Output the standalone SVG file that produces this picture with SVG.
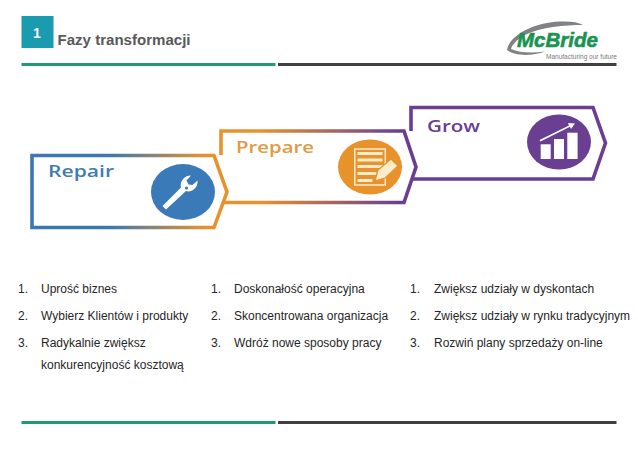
<svg xmlns="http://www.w3.org/2000/svg" width="638" height="452" viewBox="0 0 638 452">
<style>
.l{font:12px "Liberation Sans",Arial,sans-serif;fill:#262626}
.h{font-family:"Open Sans","Noto Sans",sans-serif;font-weight:600;font-size:17px}
.s{fill:none;stroke-width:3.6;stroke-linejoin:miter}
.g{fill:#1f9b72}.d{fill:#404042}
</style>
<defs>
<linearGradient id="g1" gradientUnits="userSpaceOnUse" x1="110" y1="0" x2="205" y2="0"><stop offset="0" stop-color="#3a78b2"/><stop offset="1" stop-color="#e8922c"/></linearGradient>
<linearGradient id="g2" gradientUnits="userSpaceOnUse" x1="260" y1="0" x2="400" y2="0"><stop offset="0" stop-color="#e8922c"/><stop offset="1" stop-color="#6a3e90"/></linearGradient>
</defs>
<rect width="638" height="452" fill="#fff"/>
<g id="header">
<rect x="21.5" y="16" width="32" height="32" fill="#1a9bb0"/>
<text x="37" y="38" text-anchor="middle" style="font:bold 14px 'Liberation Sans',Arial,sans-serif" fill="#fff">1</text>
<text x="57.5" y="45" style="font:bold 14px 'Liberation Sans',Arial,sans-serif" fill="#59595b" textLength="133" lengthAdjust="spacingAndGlyphs">Fazy transformacji</text>
<rect class="g" x="21.5" y="63" width="254" height="3"/>
<rect class="d" x="278" y="63" width="338.5" height="3"/>
</g>
<g id="logo">
<path d="M507 50C509 37 530 23 560 21.5C570 21 578 22 583 25C565 25 541 27 525 35C516 40 512 45 511 49C520 53 532 53 545 51.5C533 56 514 56.5 507 50Z" fill="#808285"/>
<text x="517" y="46.5" style="font:italic bold 21px 'Liberation Sans',Arial,sans-serif" fill="#1a9350" stroke="#1a9350" stroke-width=".6" textLength="81" lengthAdjust="spacingAndGlyphs">McBride</text>
<text x="546" y="58.5" style="font:7.5px 'Liberation Sans',Arial,sans-serif" fill="#7a7a7c" textLength="71" lengthAdjust="spacingAndGlyphs">Manufacturing our future</text>
</g>
<g id="grow">
<path class="s" stroke="#6a3e90" d="M411 131V107.5H593L605.5 143L593 179H413"/>
<ellipse cx="559" cy="142" rx="32" ry="27.5" fill="#6a3e90"/>
<g fill="#fff">
<rect x="540.7" y="144.3" width="10" height="14.7"/>
<rect x="554" y="139" width="10" height="20"/>
<rect x="567.3" y="132.7" width="10.3" height="26.3"/>
<path d="M539.5 140L569 125.5L568 123L575 123.5L571 129L570 126.8L540.5 141.5Z"/>
</g>
<text class="h" x="427" y="132" fill="#6a3e90" textLength="53" lengthAdjust="spacingAndGlyphs">Grow</text>
</g>
<g id="prepare">
<path class="s" stroke="url(#g2)" d="M221 155V131H404L416 167L404 202.5H224"/>
<ellipse cx="370" cy="167" rx="32" ry="27.5" fill="#e8922c"/>
<rect x="354.8" y="149" width="30.5" height="36" fill="none" stroke="#fbeccb" stroke-width="1.5"/>
<g fill="#fbeccb">
<rect x="357.5" y="152" width="25" height="3"/>
<rect x="357.5" y="158.5" width="25" height="3"/>
<rect x="357.5" y="165" width="25" height="3"/>
<rect x="357.5" y="172" width="19" height="3"/>
<rect x="357.5" y="179" width="15" height="3"/>
</g>
<path d="M375 181L378 170L391 159L398 166L385 178Z" fill="#fbeccb" stroke="#e8922c" stroke-width="1.2"/>
<text class="h" x="236" y="153" fill="#e39a45" textLength="78" lengthAdjust="spacingAndGlyphs">Prepare</text>
</g>
<g id="repair">
<path class="s" stroke="url(#g1)" fill="#fff" d="M32 155.5H214L227 192L214 227.5H32Z"/>
<ellipse cx="183" cy="192" rx="32" ry="28" fill="#3a7ab8"/>
<path d="M166 209.5L162.5 206L181 187.5C179.5 182 184 175.5 191 175.5L186.5 180.5L188.5 184.5L192.5 185L197.5 180.5C198.5 187 192 193 186 191Z" fill="#fff"/>
<circle cx="186.5" cy="188" r="1.6" fill="#3a7ab8"/>
<text class="h" x="48" y="177" fill="#3f7cb2" textLength="66" lengthAdjust="spacingAndGlyphs">Repair</text>
</g>
<g id="list-repair" class="l">
<text x="18" y="293">1.</text><text x="41" y="293">Uprość biznes</text>
<text x="18" y="320">2.</text><text x="41" y="320">Wybierz Klientów i produkty</text>
<text x="18" y="347">3.</text><text x="41" y="347">Radykalnie zwiększ</text>
<text x="41" y="369">konkurencyjność kosztową</text>
</g>
<g id="list-prepare" class="l">
<text x="211" y="293">1.</text><text x="234" y="293">Doskonałość operacyjna</text>
<text x="211" y="320">2.</text><text x="234" y="320">Skoncentrowana organizacja</text>
<text x="211" y="347">3.</text><text x="234" y="347">Wdróż nowe sposoby pracy</text>
</g>
<g id="list-grow" class="l">
<text x="410" y="293">1.</text><text x="434" y="293">Zwiększ udziały w dyskontach</text>
<text x="410" y="320">2.</text><text x="434" y="320">Zwiększ udziały w rynku tradycyjnym</text>
<text x="410" y="347">3.</text><text x="434" y="347">Rozwiń plany sprzedaży on-line</text>
</g>
<g id="footer">
<rect class="g" x="21.5" y="421" width="254" height="3"/>
<rect class="d" x="278" y="421" width="338.5" height="3"/>
</g>
</svg>
